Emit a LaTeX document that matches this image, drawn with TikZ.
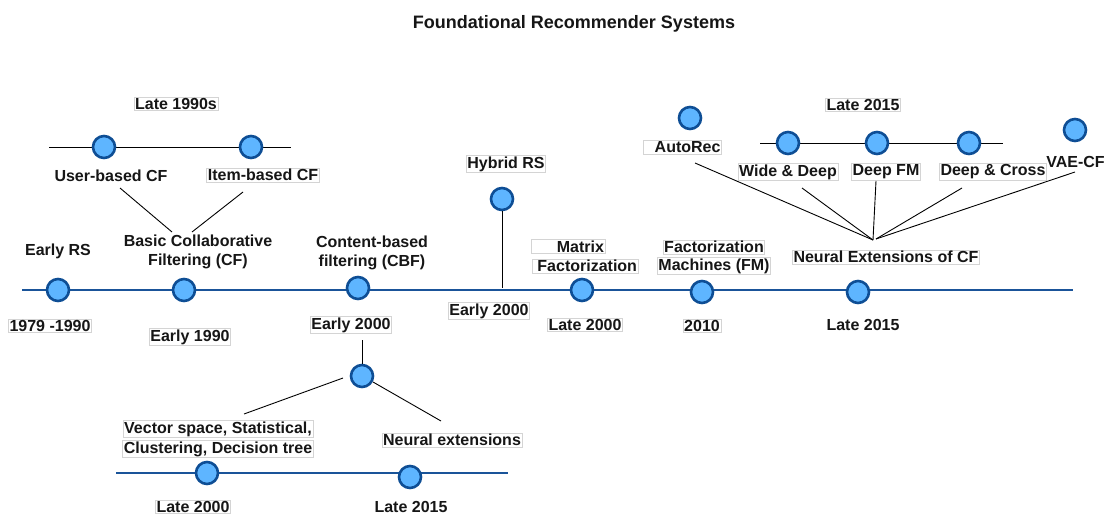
\documentclass[tikz,border=0pt]{standalone}
\usepackage{fontspec}
\setmainfont{Liberation Sans}
\begin{document}
\begin{tikzpicture}[x=1pt,y=-1pt,
  dot/.style={circle,draw=dotblue,fill=dotfill,line width=2.6pt,minimum size=22pt,inner sep=0pt},
  lbl/.style={font=\fontsize{16}{18.5}\selectfont\bfseries,text=txt,inner sep=1.1pt,align=center},
  boxed/.style={lbl,draw=boxgray,line width=0.8pt,fill=white},
  tl/.style={draw=lineblue,line width=2.4pt},
  thin/.style={draw=black,line width=0.9pt}]
\definecolor{dotblue}{HTML}{0E4E95}
\definecolor{dotfill}{HTML}{5EB5FF}
\definecolor{lineblue}{HTML}{1A5499}
\definecolor{boxgray}{HTML}{D4D4D4}
\definecolor{txt}{HTML}{161616}
\useasboundingbox (0,0) rectangle (1108,516);
\fill[white] (0,0) rectangle (1108,516);

\node[lbl,font=\fontsize{18}{20}\selectfont\bfseries] (title) at (574,24) {Foundational Recommender Systems};

% main timeline
\coordinate (tlL) at (22,290);
\coordinate (tlR) at (1073,290);
\draw[tl] (tlL) -- (tlR);
\node[dot] (m1) at (58,290) {};
\node[dot] (m2) at (184,290) {};
\node[dot] (m3) at (358,288) {};
\node[dot] (m4) at (582,290) {};
\node[dot] (m5) at (702,292) {};
\node[dot] (m6) at (858,292) {};

\node[lbl] (earlyrs) at (58,251) {Early RS};
\node[boxed] (d1) at (50,326) {1979 -1990};
\node[lbl] (bcf) at (198,252) {Basic Collaborative\\Filtering (CF)};
\node[boxed] (d2) at (190,337) {Early 1990};
\node[lbl] (cbf) at (372,253) {Content-based\\filtering (CBF)};
\node[boxed] (d3) at (351,325) {Early 2000};
\node[boxed] (hyb) at (506,164) {Hybrid RS};
\node[dot] (hdot) at (502,199) {};
\coordinate (hbase) at (502,288);
\draw[thin] (hdot) -- (hbase);
\node[boxed] (d4) at (489,311) {Early 2000};
\node[boxed,text width=72pt,align=right] (mf1) at (568,246.5) {Matrix};
\node[boxed] (mf2) at (585,266) {~Factorization};
\node[boxed] (d5) at (585,325) {Late 2000};
\node[boxed] (fm1) at (714,247) {Factorization};
\node[boxed] (fm2) at (714,266) {Machines (FM)};
\node[boxed] (d6) at (702,326) {2010};
\node[lbl] (d7) at (863,325) {Late 2015};
\node[boxed] (nec) at (886,257) {Neural Extensions of CF};

% top-left cluster
\node[boxed] (l90) at (176,104) {Late 1990s};
\coordinate (clL) at (49,147);
\coordinate (clR) at (291,147);
\draw[thin] (clL) -- (clR);
\node[dot] (ub) at (104,147) {};
\node[dot] (ib) at (251,147) {};
\node[lbl] (ubl) at (111,176) {User-based CF};
\node[boxed] (ibl) at (263,175) {Item-based CF};
\coordinate (u1) at (120,188);
\coordinate (u2) at (172,232);
\coordinate (i1) at (243,192);
\coordinate (i2) at (192,232);
\draw[thin] (u1) -- (u2);
\draw[thin] (i1) -- (i2);

% top-right cluster
\node[dot] (ar) at (690,118) {};
\node[boxed,text width=76pt,align=right] (arl) at (682.5,147.5) {AutoRec};
\node[boxed] (l15) at (863,105) {Late 2015};
\coordinate (crL) at (760,143);
\coordinate (crR) at (1003,143);
\draw[thin] (crL) -- (crR);
\node[dot] (wd) at (788,143) {};
\node[dot] (dfm) at (877,143) {};
\node[dot] (dc) at (969,143) {};
\node[dot] (vae) at (1075,130) {};
\node[boxed] (wdl) at (788,172) {Wide \& Deep};
\node[boxed] (dfml) at (886,172) {Deep FM};
\node[boxed] (dcl) at (993,172) {Deep \& Cross};
\node[lbl,anchor=east] (vael) at (1106,162) {VAE-CF};
\coordinate (hub) at (873,240);
\coordinate (a1) at (695,163);
\coordinate (a2) at (802,188);
\coordinate (a3) at (876,181);
\coordinate (a4) at (962,188);
\coordinate (a5) at (1075,172);
\coordinate (hub2) at (876,239);
\draw[thin] (a1) -- (hub);
\draw[thin] (a2) -- (hub);
\draw[thin] (a3) -- (hub);
\draw[thin] (a4) -- (hub2);
\draw[thin] (a5) -- (hub2);

% bottom cluster
\node[dot] (cb) at (362,376) {};
\coordinate (cbtop) at (362,340);
\draw[thin] (cbtop) -- (cb);
\coordinate (b1) at (343,378);
\coordinate (b2) at (244,414);
\coordinate (b3) at (373,382);
\coordinate (b4) at (441,421);
\draw[thin] (b1) -- (b2);
\draw[thin] (b3) -- (b4);
\node[boxed] (vs1) at (218,429) {Vector space, Statistical,};
\node[boxed] (vs2) at (218,449) {Clustering, Decision tree};
\node[boxed] (ne) at (452,440) {Neural extensions};
\coordinate (bL) at (116,473);
\coordinate (bR) at (508,473);
\draw[tl] (bL) -- (bR);
\node[dot] (bd1) at (207,473) {};
\node[dot] (bd2) at (410,477) {};
\node[boxed] (bl1) at (193,507) {Late 2000};
\node[lbl] (bl2) at (411,507) {Late 2015};
\end{tikzpicture}
\end{document}
